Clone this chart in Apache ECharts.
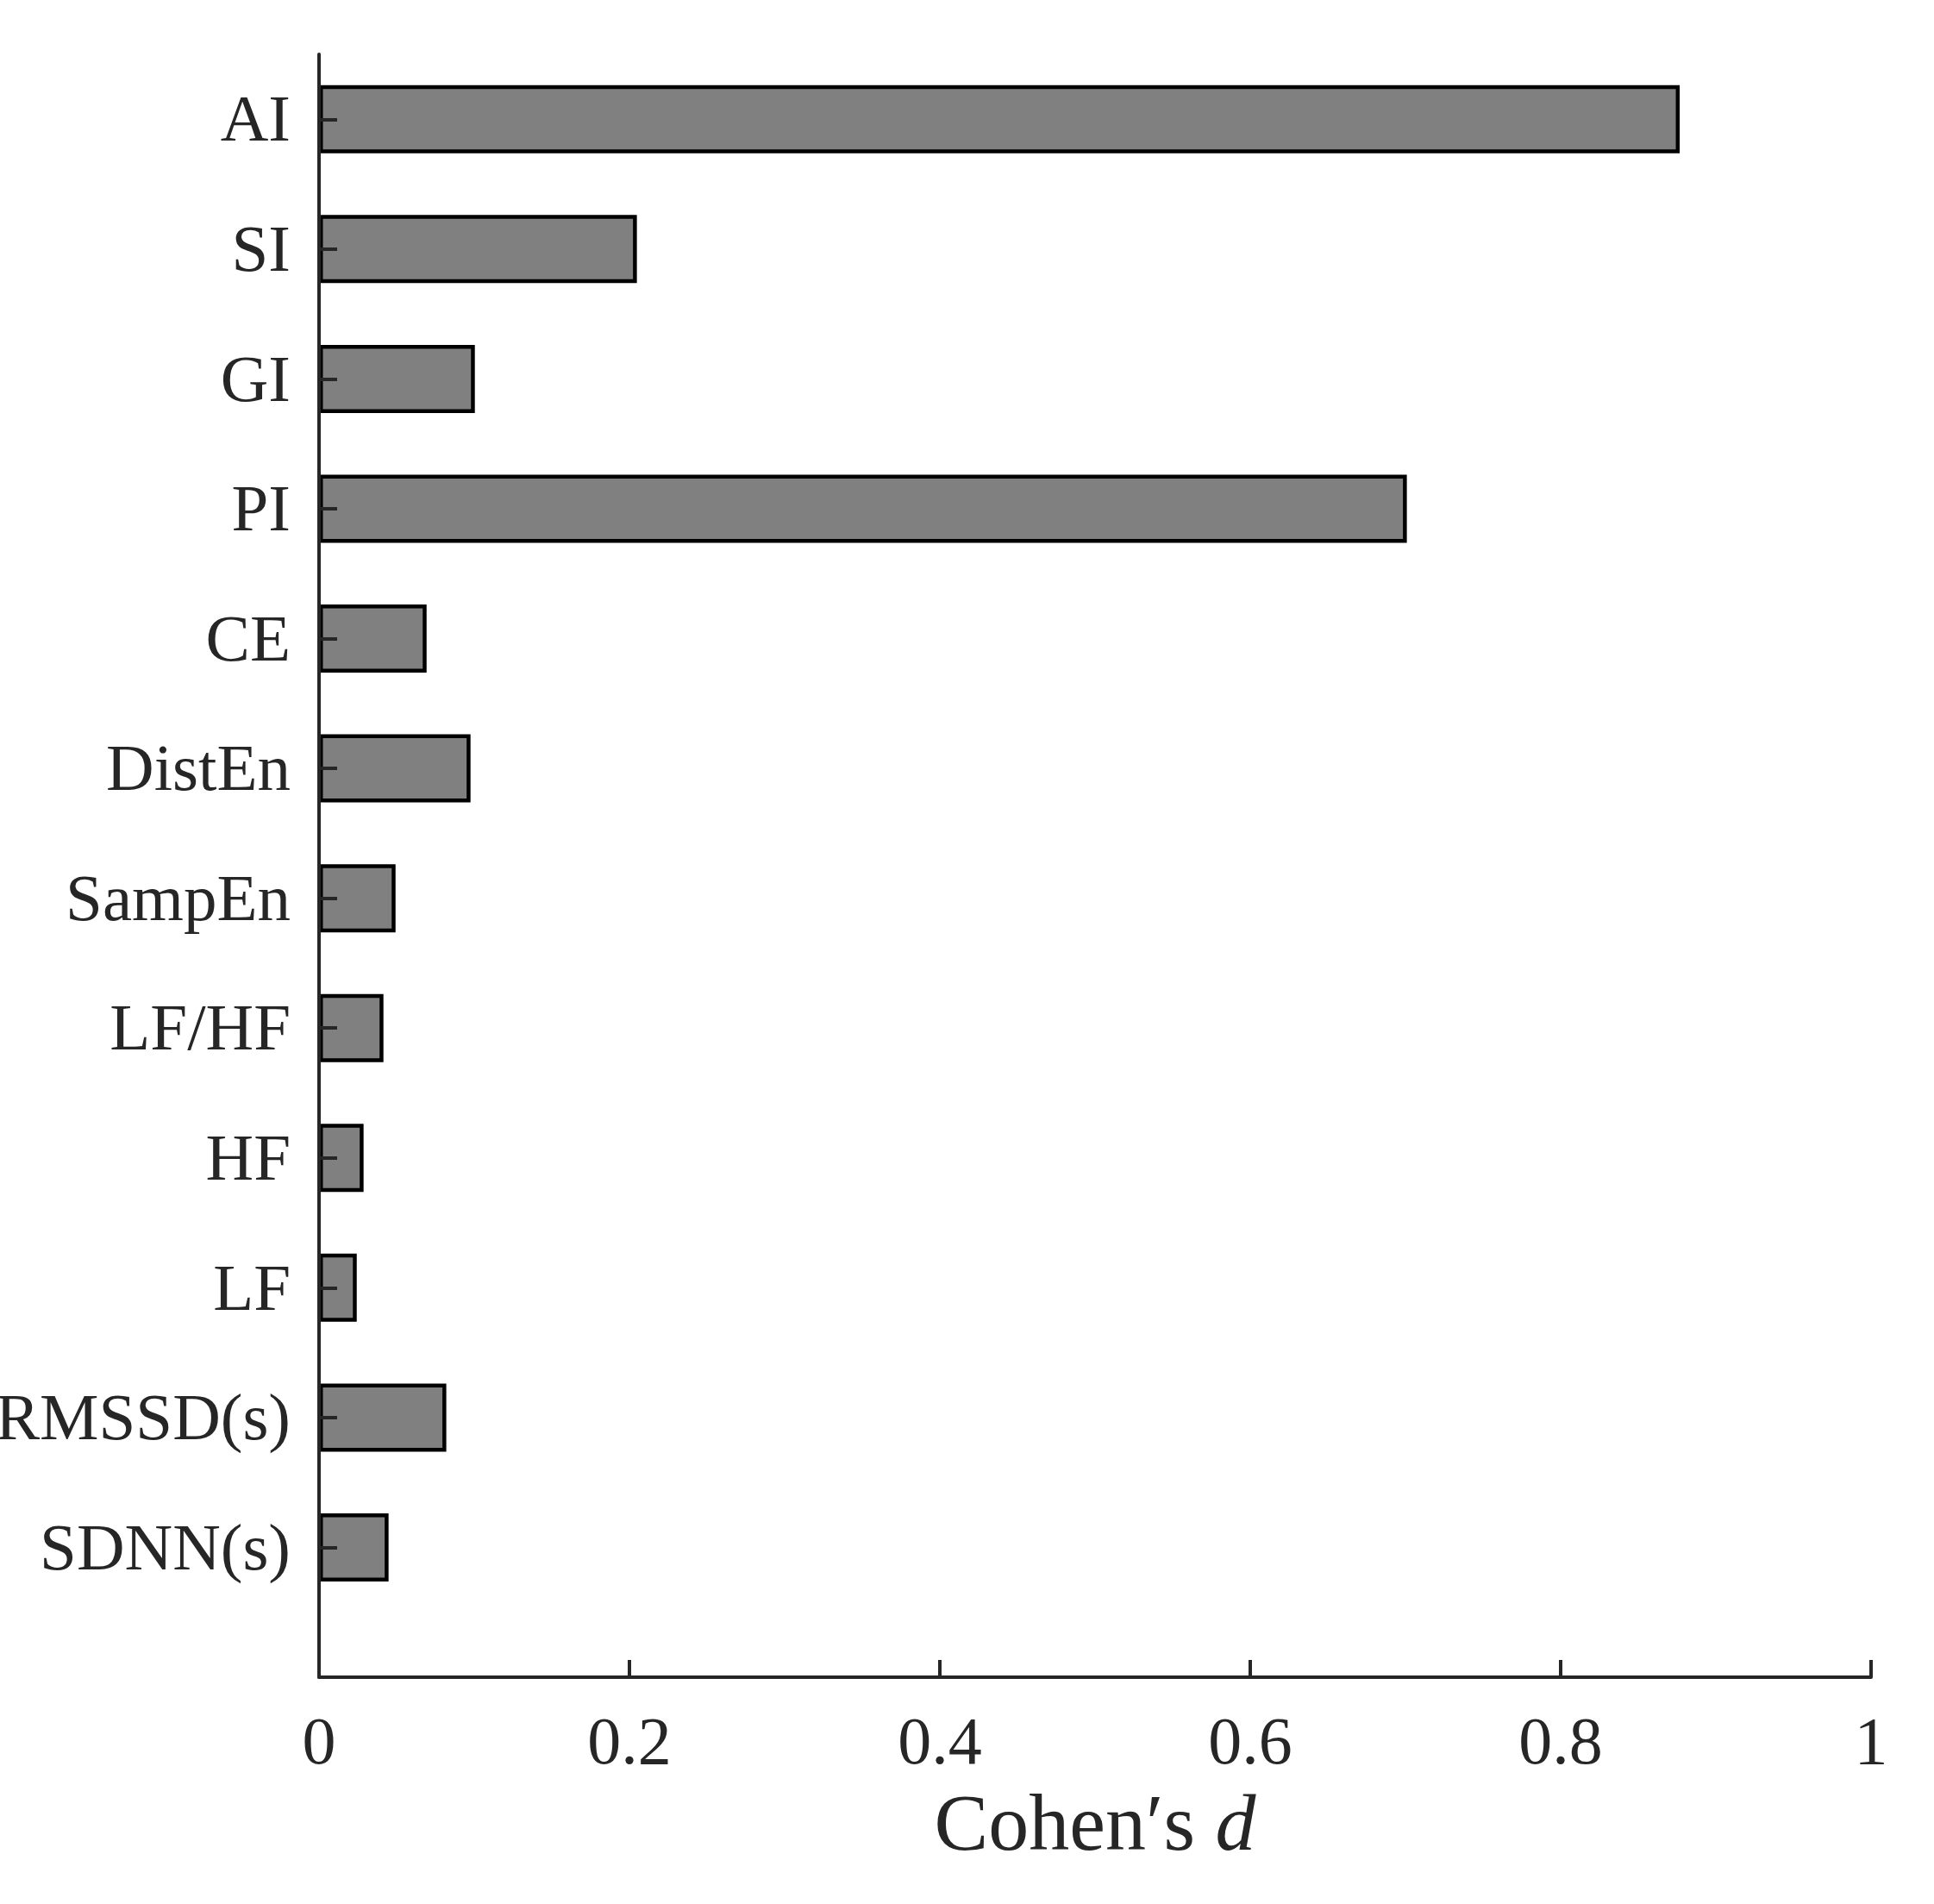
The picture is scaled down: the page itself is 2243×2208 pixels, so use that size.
<!DOCTYPE html>
<html>
<head>
<meta charset="utf-8">
<script src="https://cdn.jsdelivr.net/npm/echarts@6/dist/echarts.min.js"></script>
<style>
html,body{margin:0;padding:0;background:#fff;}
#chart{width:2243px;height:2208px;}
</style>
</head>
<body>
<div id="chart"></div>
<script>
// categories listed bottom to top (ECharts category y axis starts at the bottom)
const categories = ['SDNN(s)', 'RMSSD(s)', 'LF', 'HF', 'LF/HF', 'SampEn', 'DistEn', 'CE', 'PI', 'GI', 'SI', 'AI'];
const cohensD = [0.0448, 0.0820, 0.0243, 0.0287, 0.0415, 0.0493, 0.0976, 0.0693, 0.7009, 0.1004, 0.2048, 0.8767];
const xTicks = [0, 0.2, 0.4, 0.6, 0.8, 1];

const FONT = "'Liberation Serif', 'Times New Roman', serif";
const INK = '#262626';

const chart = echarts.init(document.getElementById('chart'), null, {renderer: 'canvas'});
const unit = (1945 - 63) / 12.5;
const option = {
  animation: false,
  backgroundColor: '#fff',
  grid: [
    {left: 370, right: 73, top: 63, bottom: 2208 - 1945, containLabel: false, outerBoundsMode: 'none'},
    {left: 370, right: 73, top: 63, bottom: 2208 - (1945 - unit / 2), containLabel: false, outerBoundsMode: 'none'}
  ],
  xAxis: [
    {
      gridIndex: 0, type: 'value', min: 0, max: 1, interval: 0.2, z: 10,
      axisLine: {show: true, onZero: false, lineStyle: {color: INK, width: 4}},
      axisTick: {show: true, inside: true, length: 20, lineStyle: {color: INK, width: 4}},
      axisLabel: {
        show: true, margin: 41, color: INK, fontFamily: FONT, fontSize: 78, lineHeight: 78,
        formatter: v => { const t = xTicks.find(x => Math.abs(x - v) < 1e-9); return t === undefined ? '' : String(t); }
      },
      splitLine: {show: false},
      name: '{a|Cohen\u2032s }{b|d}',
      nameLocation: 'middle',
      nameGap: 128,
      nameTextStyle: {
        rich: {
          a: {fontFamily: FONT, fontSize: 94, lineHeight: 94, color: INK},
          b: {fontFamily: FONT, fontSize: 94, lineHeight: 94, color: INK, fontStyle: 'italic'}
        }
      }
    },
    {
      gridIndex: 1, type: 'value', min: 0, max: 1, show: false
    }
  ],
  yAxis: [
    {
      gridIndex: 0, type: 'value', min: 0, max: 1, z: 10,
      axisLine: {show: true, onZero: false, lineStyle: {color: INK, width: 4}},
      axisTick: {show: false}, axisLabel: {show: false}, splitLine: {show: false}
    },
    {
      gridIndex: 1, type: 'category', data: categories, z: 10,
      axisLine: {show: false},
      axisTick: {show: true, inside: true, alignWithLabel: true, length: 21, lineStyle: {color: INK, width: 4}},
      axisLabel: {
        show: true, margin: 33, color: INK, fontFamily: FONT, fontSize: 77,
        formatter: v => '{l|' + v + '}',
        rich: {l: {fontFamily: FONT, fontSize: 77, lineHeight: 77, color: INK, padding: [10, 0, 0, 0]}}
      },
      splitLine: {show: false}
    }
  ],
  series: [
    {
      type: 'bar', xAxisIndex: 1, yAxisIndex: 1,
      data: cohensD,
      barWidth: 79,
      itemStyle: {color: '#808080', borderColor: '#000000', borderWidth: 4.5},
      z: 2
    }
  ]
};
chart.setOption(option);
</script>
</body>
</html>
